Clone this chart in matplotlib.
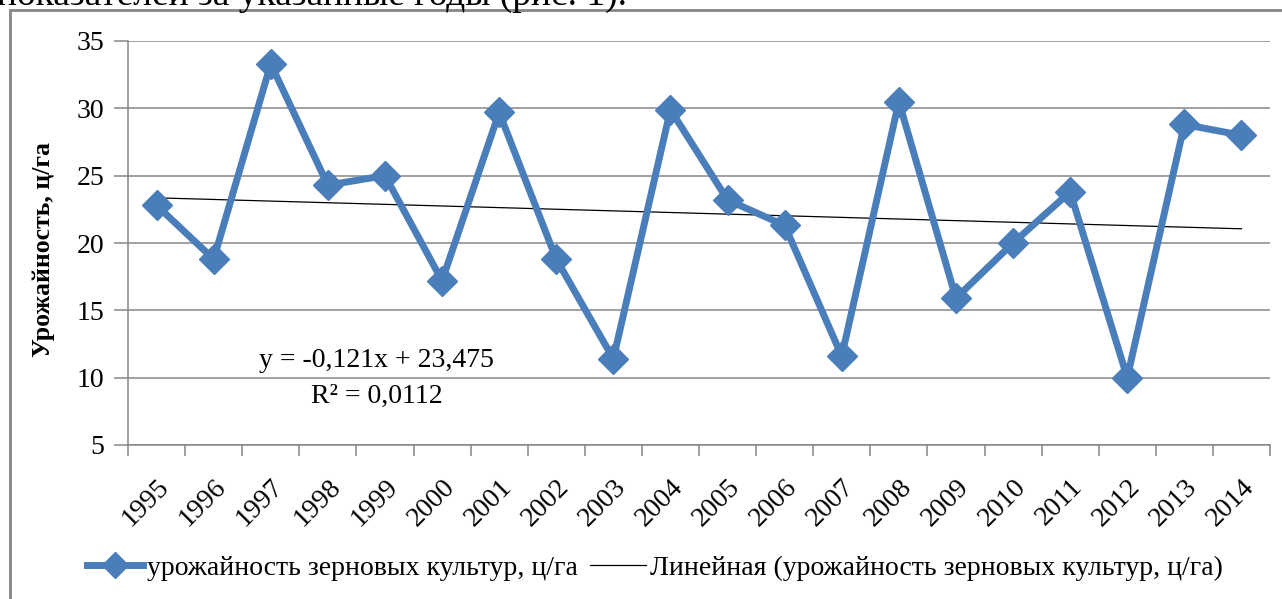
import numpy as np
import matplotlib.pyplot as plt
from matplotlib.lines import Line2D
from matplotlib.patches import Rectangle

plt.rcParams['font.family'] = ['Liberation Serif', 'DejaVu Serif']

# ── data ──────────────────────────────────────────────
years = ['1995', '1996', '1997', '1998', '1999', '2000', '2001', '2002', '2003', '2004',
         '2005', '2006', '2007', '2008', '2009', '2010', '2011', '2012', '2013', '2014']
yields = [22.8, 18.8, 33.3, 24.3, 25.0, 17.2, 29.7, 18.8, 11.4, 29.9,
          23.2, 21.3, 11.6, 30.5, 15.9, 20.0, 23.8, 10.0, 28.8, 28.0]
trend_slope = -0.121
trend_icpt = 23.475
r2 = 0.0112

blue = '#4A7EBB'
gray = '#868686'
fs = 20

fig = plt.figure(figsize=(12.82, 5.99), dpi=100)
ax = fig.add_axes([128/1282, 1 - 445/599, (1270 - 128)/1282, (445 - 41)/599])

xs = np.arange(len(years))
ax.plot(xs, yields, color=blue, lw=5, marker='D', ms=15, mec=blue, mfc=blue, zorder=3)
trend = trend_slope * (xs + 1) + trend_icpt
ax.plot(xs, trend, color='black', lw=0.9, zorder=2)

ax.set_xlim(-0.5, len(years) - 0.5)
ax.set_ylim(5, 35)
ax.set_yticks(range(5, 36, 5))
ax.yaxis.grid(True, color=gray, lw=1.1)
ax.set_axisbelow(True)
for s in ['top', 'right']:
    ax.spines[s].set_visible(False)
for s in ['left', 'bottom']:
    ax.spines[s].set_color(gray)
    ax.spines[s].set_linewidth(1.1)

# ticks between categories, labels at category centres
ax.set_xticks(np.arange(-0.5, len(years), 1))
ax.set_xticklabels([])
ax.set_xticks(xs, minor=True)
ax.set_xticklabels(years, minor=True, rotation=45, ha='right', rotation_mode='anchor',
                   fontsize=fs)
ax.tick_params(axis='x', which='major', length=8, color=gray, width=1.1)
ax.tick_params(axis='x', which='minor', length=0, pad=21)
ax.tick_params(axis='y', length=10, color=gray, width=1.1, labelsize=fs, pad=7)
ax.set_ylabel('Урожайность, ц/га', fontsize=18.5, fontweight='bold')
ax.yaxis.set_label_coords(-0.064, 0.485)

ax.text(3.85, 10.8, f'y = {trend_slope:.3f}x + {trend_icpt:.3f}'.replace('.', ','),
        ha='center', va='baseline', fontsize=fs)
ax.text(3.85, 8.1, f'R² = {r2:.4f}'.replace('.', ','), ha='center', va='baseline', fontsize=fs)

handles = [Line2D([], [], color=blue, lw=5, marker='D', ms=13),
           Line2D([], [], color='black', lw=0.9)]
fig.legend(handles, ['урожайность зерновых культур, ц/га',
                     'Линейная (урожайность зерновых культур, ц/га)'],
           loc='center', bbox_to_anchor=(655/1282, 1 - 568/599), ncol=2, frameon=False,
           fontsize=fs, handlelength=2.0, handletextpad=0.15, columnspacing=0.45)

# chart frame (runs off the right and bottom edges)
fig.patches.append(Rectangle((10/1282, -0.1), 1.2, 1.1 - 10/599, transform=fig.transFigure,
                             fill=False, edgecolor=gray, lw=2))
# page text above the chart, cut off by the top edge
fig.text(-0.002, 1 - 5/599, 'показателей за указанные годы (рис. 1).',
         ha='left', va='baseline', fontsize=27)

fig.savefig('out.png', dpi=100)
